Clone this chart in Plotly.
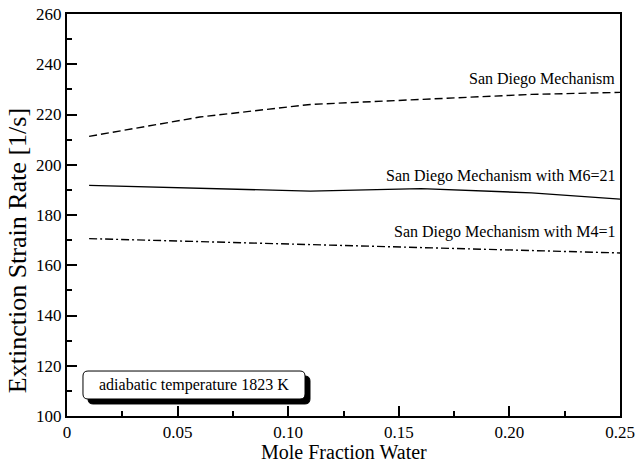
import plotly.graph_objects as go

x_vals = [0.01, 0.06, 0.11, 0.16, 0.21, 0.25]
sd_base = [211.3, 219.0, 224.0, 226.0, 228.0, 228.8]
sd_m6 = [191.8, 190.6, 189.5, 190.5, 188.8, 186.3]
sd_m4 = [170.6, 169.4, 168.2, 167.0, 165.8, 164.9]

labels = ["San Diego Mechanism", "San Diego Mechanism with M6=21", "San Diego Mechanism with M4=1"]
label_y = [229.8, 191.2, 169.0]

x_ticks = [0, 0.05, 0.10, 0.15, 0.20, 0.25]
x_ticktext = ["0", "0.05", "0.10", "0.15", "0.20", "0.25"]
y_ticks = [100, 120, 140, 160, 180, 200, 220, 240, 260]

FONT = "Liberation Serif"

fig = go.Figure()
fig.add_trace(go.Scatter(x=x_vals, y=sd_base, mode="lines",
                         line=dict(color="black", width=1.4, dash="8px,4px"), name=labels[0]))
fig.add_trace(go.Scatter(x=x_vals, y=sd_m6, mode="lines",
                         line=dict(color="black", width=1.4), name=labels[1]))
fig.add_trace(go.Scatter(x=x_vals, y=sd_m4, mode="lines",
                         line=dict(color="black", width=1.4, dash="8px,3px,2px,3px"), name=labels[2]))

for t, yy in zip(labels, label_y):
    fig.add_annotation(x=0.2485, y=yy, xref="x", yref="y", text=t, showarrow=False,
                       xanchor="right", yanchor="bottom", font=dict(family=FONT, size=16, color="black"))

def rrect(x0, y0, x1, y1, rx, ry):
    return (f"M {x0+rx},{y0} L {x1-rx},{y0} Q {x1},{y0} {x1},{y0+ry} "
            f"L {x1},{y1-ry} Q {x1},{y1} {x1-rx},{y1} L {x0+rx},{y1} Q {x0},{y1} {x0},{y1-ry} "
            f"L {x0},{y0+ry} Q {x0},{y0} {x0+rx},{y0} Z")

rx, ry = 5/553, 5/402
fig.add_shape(type="path", xref="paper", yref="paper",
              path=rrect(0.0380, 0.0299, 0.4394, 0.0995, rx, ry),
              fillcolor="black", line=dict(color="black", width=1))
fig.add_shape(type="path", xref="paper", yref="paper",
              path=rrect(0.0289, 0.0423, 0.4304, 0.1119, rx, ry),
              fillcolor="white", line=dict(color="black", width=1))
fig.add_annotation(x=0.2297, y=0.0771, xref="paper", yref="paper", text="adiabatic temperature 1823 K",
                   showarrow=False, xanchor="center", yanchor="middle",
                   font=dict(family=FONT, size=16, color="black"))

# axis titles as annotations to match their exact placement
fig.add_annotation(x=0.5, y=-0.09, xref="paper", yref="paper", text="Mole Fraction Water",
                   showarrow=False, xanchor="center", yanchor="middle", borderpad=0,
                   font=dict(family=FONT, size=20, color="black"))
fig.add_annotation(x=-0.0904, y=0.41, xref="paper", yref="paper", text="Extinction Strain Rate [1/s]",
                   showarrow=False, xanchor="center", yanchor="middle", textangle=-90,
                   font=dict(family=FONT, size=26, color="black"))

axis_common = dict(showgrid=False, zeroline=False, showline=True, linecolor="black", linewidth=2,
                   mirror=True, ticks="inside", ticklen=10, tickwidth=1.5, tickcolor="black",
                   automargin=False, ticklabeloverflow="allow",
                   tickfont=dict(family=FONT, size=17, color="black"))

fig.update_xaxes(range=[0, 0.25], tickvals=x_ticks, ticktext=x_ticktext,
                 minor=dict(ticks="inside", ticklen=5, tickwidth=1.5, tickcolor="black", dtick=0.025),
                 **axis_common)
fig.update_yaxes(range=[100, 260], tickvals=y_ticks,
                 minor=dict(ticks="inside", ticklen=5, tickwidth=1.5, tickcolor="black", dtick=10),
                 **axis_common)

fig.update_layout(width=636, height=461, margin=dict(l=67, r=16, t=14, b=45),
                  font=dict(family=FONT, color="black"),
                  paper_bgcolor="white", plot_bgcolor="white", showlegend=False)

fig.write_html("out.html", config={"displayModeBar": False},
               post_script="document.body.style.margin='0';")
